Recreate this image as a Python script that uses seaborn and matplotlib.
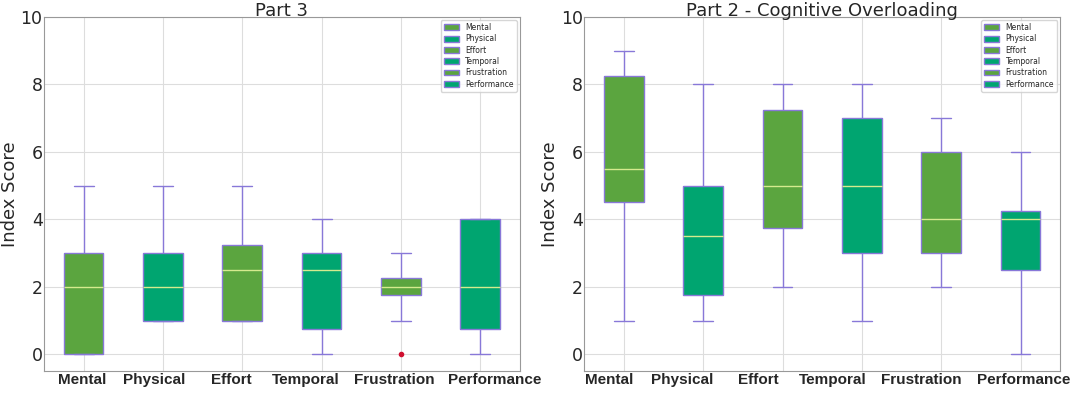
import pandas as pd
import seaborn as sns
import matplotlib.pyplot as plt
from matplotlib.patches import Patch
from matplotlib.transforms import ScaledTranslation

categories = ['Mental', 'Physical', 'Effort', 'Temporal', 'Frustration', 'Performance']

# individual index scores per subscale (8 participants)
part3_scores = {
    'Mental':      [0, 0, 0, 2, 2, 3, 3, 5],
    'Physical':    [1, 1, 1, 2, 2, 3, 3, 5],
    'Effort':      [1, 1, 1, 2, 3, 3, 4, 5],
    'Temporal':    [0, 0, 1, 2, 3, 3, 3, 4],
    'Frustration': [0, 1, 2, 2, 2, 2, 3, 3],
    'Performance': [0, 0, 1, 2, 2, 4, 4, 4],
}
part2_scores = {
    'Mental':      [1, 3, 5, 5, 6, 8, 9, 9],
    'Physical':    [1, 1, 2, 3, 4, 5, 5, 8],
    'Effort':      [2, 3, 4, 5, 5, 7, 8, 8],
    'Temporal':    [1, 3, 3, 5, 5, 7, 7, 8],
    'Frustration': [2, 3, 3, 4, 4, 6, 6, 7],
    'Performance': [0, 1, 3, 4, 4, 4, 5, 6],
}
titles = ['Part 3', 'Part 2 - Cognitive Overloading']

green = '#5ba53f'
teal = '#00a570'
palette = {c: (green if i % 2 == 0 else teal) for i, c in enumerate(categories)}
edge = '#8878d8'

# the tick labels in the original sit a bit off their ticks (px)
label_shift = [[-1, -9, -11, -16, -7, 14], [-15, -21, -24, -29, -20, 3]]

sns.set_style('whitegrid')
plt.rcParams['font.family'] = ['DejaVu Sans']

fig, axes = plt.subplots(1, 2, figsize=(10.72, 3.94), dpi=100)
fig.subplots_adjust(left=0.041, right=0.989, top=0.957, bottom=0.058, wspace=0.135)

for ax, scores, title, shifts in zip(axes, [part3_scores, part2_scores], titles, label_shift):
    df = pd.DataFrame(scores).melt(var_name='subscale', value_name='score')
    sns.boxplot(data=df, x='subscale', y='score', hue='subscale', order=categories,
                palette=palette, width=0.5, linewidth=1, saturation=1, legend=False,
                boxprops=dict(edgecolor=edge),
                whiskerprops=dict(color=edge), capprops=dict(color=edge),
                medianprops=dict(color='#d5eb8e', linewidth=1),
                flierprops=dict(marker='o', markersize=3, markerfacecolor='#d01030',
                                markeredgecolor='#d01030'),
                ax=ax)
    ax.set_ylim(-0.5, 10)
    ax.set_yticks(range(0, 11, 2))
    ax.set_title(title, fontsize=13, pad=1)
    ax.set_xlabel('')
    ax.set_ylabel('Index Score', fontsize=13, labelpad=1)
    ax.tick_params(axis='y', labelsize=12.5, pad=1, length=0)
    ax.tick_params(axis='x', pad=1, length=0)
    for lbl, dx in zip(ax.get_xticklabels(), shifts):
        lbl.set_fontfamily('Liberation Sans')
        lbl.set_fontweight('bold')
        lbl.set_fontsize(11)
        lbl.set_transform(lbl.get_transform() + ScaledTranslation(dx / 100, 0, fig.dpi_scale_trans))
    ax.grid(True, color='#dddddd', linewidth=0.8)
    for s in ax.spines.values():
        s.set_color('#999999')
    handles = [Patch(facecolor=palette[c], edgecolor=edge, label=c) for c in categories]
    ax.legend(handles=handles, loc='upper right', fontsize=5.5, frameon=True,
              handlelength=2.0, handleheight=0.8, labelspacing=0.3,
              borderaxespad=0.4, borderpad=0.4)

plt.savefig('out.png')
